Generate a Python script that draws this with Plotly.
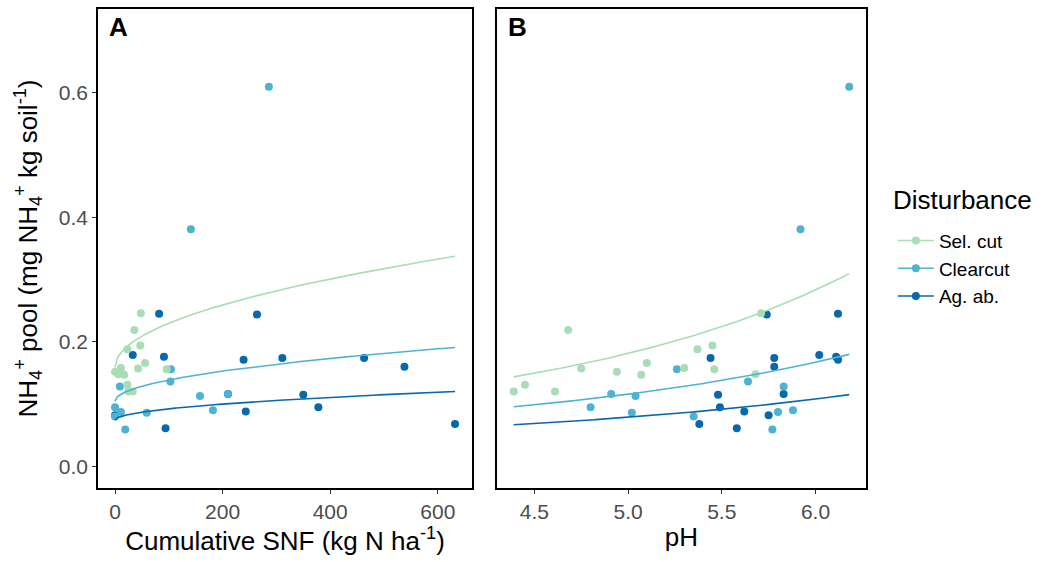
import numpy as np
import plotly.graph_objects as go

groups = ["Sel. cut", "Clearcut", "Ag. ab."]
colors = ["#a8ddb5", "#4eb3d3", "#0868ac"]

# Observations (NH4+ pool, cumulative SNF, pH) by disturbance
sel_nh4 = [0.120, 0.131, 0.120, 0.219, 0.157, 0.152, 0.147, 0.166, 0.158, 0.188, 0.194, 0.156, 0.148, 0.246]
sel_snf = [25, 23, 33, 36, 43, 0, 17, 56, 11, 23, 47, 96, 6, 48]
sel_ph = [4.39, 4.45, 4.61, 4.68, 4.75, 4.94, 5.07, 5.10, 5.30, 5.37, 5.45, 5.46, 5.68, 5.71]

clr_nh4 = [0.610, 0.381, 0.156, 0.136, 0.128, 0.116, 0.113, 0.095, 0.090, 0.086, 0.087, 0.080, 0.059]
clr_snf = [286, 141, 104, 103, 9, 210, 158, 0, 182, 59, 11, 0, 19]
clr_ph = [6.18, 5.92, 5.26, 5.64, 5.83, 4.91, 5.04, 4.80, 5.88, 5.02, 5.80, 5.35, 5.77]

ag_nh4 = [0.245, 0.244, 0.179, 0.176, 0.171, 0.174, 0.174, 0.160, 0.115, 0.116, 0.095, 0.088, 0.082, 0.068, 0.061]
ag_snf = [82, 264, 33, 91, 239, 311, 463, 538, 350, 210, 378, 243, 0, 632, 94]
ag_ph = [6.12, 5.74, 6.02, 6.11, 6.12, 5.44, 5.78, 5.78, 5.48, 5.83, 5.49, 5.62, 5.75, 5.38, 5.58]

# Fitted model coefficients
# Panel A: NH4 = a + b*sqrt(SNF)
snf_a = [0.159, 0.1042, 0.0739]
snf_b = [0.0071, 0.00345, 0.00184]
# Panel B: NH4 = exp(a + b*pH^2)
ph_a = [-2.722, -2.9926, -3.265]
ph_b = [0.04057, 0.03343, 0.02888]

y_ticks = [0.0, 0.2, 0.4, 0.6]
y_tick_text = ["0.0", "0.2", "0.4", "0.6"]
snf_ticks = [0, 200, 400, 600]
ph_ticks = [4.5, 5.0, 5.5, 6.0]
ph_tick_text = ["4.5", "5.0", "5.5", "6.0"]

nh4 = [sel_nh4, clr_nh4, ag_nh4]
snf = [sel_snf, clr_snf, ag_snf]
ph = [sel_ph, clr_ph, ag_ph]

all_snf = sum(snf, [])
all_ph = sum(ph, [])
snf_min, snf_max = min(all_snf), max(all_snf)
ph_min, ph_max = min(all_ph), max(all_ph)

def expand(lo, hi, f=0.05):
    d = (hi - lo) * f
    return [lo - d, hi + d]

fig = go.Figure()
order = [2, 1, 0]
for i in order:
    fig.add_trace(go.Scatter(x=snf[i], y=nh4[i], mode="markers", xaxis="x", yaxis="y",
                             marker=dict(color=colors[i], size=8), showlegend=False, hoverinfo="skip"))
    fig.add_trace(go.Scatter(x=ph[i], y=nh4[i], mode="markers", xaxis="x2", yaxis="y2",
                             marker=dict(color=colors[i], size=8), showlegend=False, hoverinfo="skip"))
for i in range(3):
    xs = np.linspace(snf_min, snf_max, 300)
    fig.add_trace(go.Scatter(x=xs, y=snf_a[i] + snf_b[i] * np.sqrt(xs), mode="lines", xaxis="x", yaxis="y",
                             line=dict(color=colors[i], width=1.6), showlegend=False, hoverinfo="skip"))
    xp = np.linspace(ph_min, ph_max, 300)
    fig.add_trace(go.Scatter(x=xp, y=np.exp(ph_a[i] + ph_b[i] * xp ** 2), mode="lines", xaxis="x2", yaxis="y2",
                             line=dict(color=colors[i], width=1.6), showlegend=False, hoverinfo="skip"))
for i in range(3):
    fig.add_trace(go.Scatter(x=[None], y=[None], mode="lines+markers", name=groups[i],
                             line=dict(color=colors[i], width=1.6), marker=dict(color=colors[i], size=8),
                             xaxis="x", yaxis="y", legendrank=i + 1))

font = "Liberation Sans, Arial, sans-serif"
axis_common = dict(showline=True, mirror=True, linecolor="black", linewidth=1.6, showgrid=False,
                   zeroline=False, ticks="outside", ticklen=4, tickcolor="#333333", tickwidth=1.1,
                   tickfont=dict(size=21, color="#4d4d4d", family=font))
yrange = [-0.035, 0.735]

fig.update_layout(
    width=1041, height=562,
    margin=dict(l=98, r=175, t=7, b=74),
    plot_bgcolor="white", paper_bgcolor="white",
    font=dict(family=font, color="black"),
    xaxis=dict(domain=[0, 0.487], range=expand(snf_min, snf_max), tickvals=snf_ticks,
               title=dict(text="Cumulative SNF (kg N ha<sup>-1</sup>)", font=dict(size=26), standoff=6),
               **axis_common),
    xaxis2=dict(domain=[0.5195, 1], range=expand(ph_min, ph_max), tickvals=ph_ticks, ticktext=ph_tick_text,
                title=dict(text="pH", font=dict(size=26), standoff=6), **axis_common),
    yaxis=dict(range=yrange, tickvals=y_ticks, ticktext=y_tick_text,
               title=dict(text="NH<sub>4</sub><sup>+</sup> pool (mg NH<sub>4</sub><sup>+</sup> kg soil<sup>-1</sup>)",
                          font=dict(size=26), standoff=14),
               anchor="x", **axis_common),
    yaxis2=dict(range=yrange, tickvals=y_ticks, showticklabels=False, anchor="x2",
                **{**axis_common, "ticks": ""}),
    legend=dict(x=1.035, y=0.556, xanchor="left", yanchor="top",
                font=dict(size=19), itemwidth=36),
    annotations=[
        dict(text="<b>A</b>", x=0.025, y=0.997, xref="x domain", yref="y domain", xanchor="left", yanchor="top",
             showarrow=False, font=dict(size=26, color="black")),
        dict(text="<b>B</b>", x=0.025, y=0.997, xref="x2 domain", yref="y2 domain", xanchor="left", yanchor="top",
             showarrow=False, font=dict(size=26, color="black")),
        dict(text="Disturbance", x=1.032, y=0.601, xref="paper", yref="paper", xanchor="left", yanchor="middle",
             showarrow=False, font=dict(size=26, color="black")),
    ],
)

fig.write_html("out.html")
